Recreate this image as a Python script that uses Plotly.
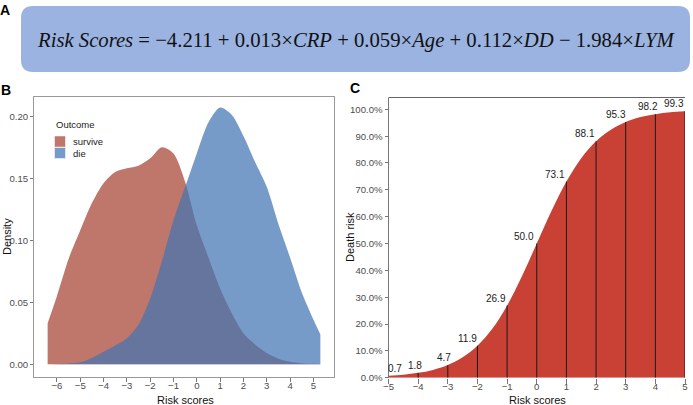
import plotly.graph_objects as go

# ---------------- data ----------------
density_x = [-6.4, -6.0, -5.5, -5.0, -4.5, -4.0, -3.5, -3.0, -2.5, -2.0, -1.5, -1.0, -0.5,
             0.0, 0.5, 1.0, 1.5, 2.0, 2.5, 3.0, 3.5, 4.0, 4.5, 5.0, 5.3]
survive_density = [0.033, 0.055, 0.085, 0.108, 0.130, 0.146, 0.155, 0.158, 0.160, 0.166, 0.175,
                   0.170, 0.147, 0.112, 0.086, 0.061, 0.041, 0.025, 0.016, 0.009, 0.0045, 0.002,
                   0.0008, 0.0003, 0.0002]
die_density = [0.0, 0.0002, 0.0006, 0.0015, 0.005, 0.010, 0.015, 0.021, 0.032, 0.053, 0.083,
               0.116, 0.143, 0.170, 0.195, 0.207, 0.201, 0.184, 0.163, 0.143, 0.113, 0.086,
               0.058, 0.036, 0.024]

curve_x = [-5.0, -4.5, -4.0, -3.5, -3.0, -2.5, -2.0, -1.5, -1.0, -0.5, 0.0,
           0.5, 1.0, 1.5, 2.0, 2.5, 3.0, 3.5, 4.0, 4.5, 5.0]
curve_risk = [0.7, 1.1, 1.8, 2.9, 4.7, 7.6, 11.9, 18.2, 26.9, 37.8, 50.0,
              62.2, 73.1, 81.8, 88.1, 92.4, 95.3, 97.1, 98.2, 98.9, 99.3]

label_scores = [-5, -4, -3, -2, -1, 0, 1, 2, 3, 4, 5]
label_risk = [0.7, 1.8, 4.7, 11.9, 26.9, 50.0, 73.1, 88.1, 95.3, 98.2, 99.3]

formula = ("<i>Risk Scores</i> = −4.211 + 0.013×<i>CRP</i> + 0.059×<i>Age</i>"
           " + 0.112×<i>DD</i> − 1.984×<i>LYM</i>")

W, H = 693, 405
RED_A = "rgba(165,66,49,0.72)"
BLUE_A = "rgba(66,117,179,0.72)"
C_RED = "rgb(200,65,52)"
FONT = "Liberation Sans, Arial, sans-serif"
TICK_C = "#4D4D4D"

fig = go.Figure()

# Panel B densities
fig.add_trace(go.Scatter(x=density_x, y=survive_density, mode="lines", fill="tozeroy",
                         line=dict(width=0, shape="spline", smoothing=0.8), fillcolor=RED_A,
                         showlegend=False, hoverinfo="skip", xaxis="x", yaxis="y"))
fig.add_trace(go.Scatter(x=density_x, y=die_density, mode="lines", fill="tozeroy",
                         line=dict(width=0, shape="spline", smoothing=0.8), fillcolor=BLUE_A,
                         showlegend=False, hoverinfo="skip", xaxis="x", yaxis="y"))

# Panel C sigmoid area
fig.add_trace(go.Scatter(x=curve_x, y=[v / 100 for v in curve_risk], mode="lines", fill="tozeroy",
                         line=dict(width=0, shape="spline", smoothing=1.0), fillcolor=C_RED,
                         showlegend=False, hoverinfo="skip", xaxis="x2", yaxis="y2"))
vx, vy = [], []
for s, r in zip(label_scores, label_risk):
    vx += [s, s, None]
    vy += [0, r / 100, None]
fig.add_trace(go.Scatter(x=vx, y=vy, mode="lines", line=dict(color="#1a1a1a", width=1),
                         showlegend=False, hoverinfo="skip", xaxis="x2", yaxis="y2"))

# label nudges (px) for C value labels
nudges = [16, 6, 5, 2, 1, -1, 1, 1, 2, 5, 1]
annotations = []
for s, r, dx in zip(label_scores, label_risk, nudges):
    annotations.append(dict(x=s, y=r / 100, xref="x2", yref="y2", text=f"{r:.1f}",
                            showarrow=False, xanchor="right", yanchor="bottom",
                            xshift=dx, yshift=0,
                            font=dict(family=FONT, size=10, color="#222")))

def px(x):
    return x / W

def py(y):
    return 1 - y / H

# Formula box (rounded rect)
x0, x1, y0, y1, r = 21, 690, 6, 72, 12
path = (f"M {px(x0 + r)} {py(y0)} L {px(x1 - r)} {py(y0)} Q {px(x1)} {py(y0)} {px(x1)} {py(y0 + r)} "
        f"L {px(x1)} {py(y1 - r)} Q {px(x1)} {py(y1)} {px(x1 - r)} {py(y1)} "
        f"L {px(x0 + r)} {py(y1)} Q {px(x0)} {py(y1)} {px(x0)} {py(y1 - r)} "
        f"L {px(x0)} {py(y0 + r)} Q {px(x0)} {py(y0)} {px(x0 + r)} {py(y0)} Z")
shapes = [dict(type="path", path=path, xref="paper", yref="paper",
               fillcolor="#9BB3E0", line=dict(width=0), layer="below")]

annotations.append(dict(x=px(356), y=py(40), xref="paper", yref="paper", text=formula,
                        showarrow=False, xanchor="center", yanchor="middle",
                        font=dict(family="Liberation Serif, serif", size=20.7, color="#111")))

# Panel letters
for letter, lx, ly in [("A", 5, 10), ("B", 6, 90), ("C", 355, 88)]:
    annotations.append(dict(x=px(lx), y=py(ly), xref="paper", yref="paper", text=f"<b>{letter}</b>",
                            showarrow=False, xanchor="center", yanchor="middle",
                            font=dict(family=FONT, size=14, color="#000")))

# Axis titles as annotations
annotations.append(dict(x=px(350), y=py(237), xref="paper", yref="paper", text="Death risk",
                        showarrow=False, textangle=-90, xanchor="center", yanchor="middle",
                        font=dict(family=FONT, size=11, color="#111")))
annotations.append(dict(x=px(7), y=py(237), xref="paper", yref="paper", text="Density",
                        showarrow=False, textangle=-90, xanchor="center", yanchor="middle",
                        font=dict(family=FONT, size=11, color="#111")))
annotations.append(dict(x=px(185), y=py(399.5), xref="paper", yref="paper", text="Risk scores",
                        showarrow=False, xanchor="center", yanchor="middle",
                        font=dict(family=FONT, size=11, color="#111")))
annotations.append(dict(x=px(537), y=py(399.5), xref="paper", yref="paper", text="Risk scores",
                        showarrow=False, xanchor="center", yanchor="middle",
                        font=dict(family=FONT, size=11, color="#111")))

# Legend for B (manual)
annotations.append(dict(x=px(54), y=py(124), xref="paper", yref="paper", text="Outcome",
                        showarrow=False, xanchor="left", yanchor="middle",
                        font=dict(family=FONT, size=9.5, color="#222")))
for i, (lab, col) in enumerate([("survive", RED_A), ("die", BLUE_A)]):
    top = 136 + i * 11.5
    shapes.append(dict(type="rect", xref="paper", yref="paper",
                       x0=px(54.5), x1=px(65.5), y0=py(top), y1=py(top + 11),
                       fillcolor=col, line=dict(width=0.5, color="white")))
    annotations.append(dict(x=px(71), y=py(top + 5.5), xref="paper", yref="paper", text=lab,
                            showarrow=False, xanchor="left", yanchor="middle",
                            font=dict(family=FONT, size=9.5, color="#222")))

# Top border line of panel C
shapes.append(dict(type="line", xref="x2 domain", yref="y2 domain", x0=0, x1=1, y0=1, y1=1,
                   line=dict(color="#666", width=1)))

axis_common = dict(showgrid=False, zeroline=False, ticks="outside", tickwidth=1, automargin=False,
                   tickcolor="#777", tickfont=dict(family=FONT, size=9.6, color=TICK_C))

fig.update_layout(
    width=W, height=H, margin=dict(l=0, r=0, t=0, b=0, autoexpand=False),
    paper_bgcolor="white", plot_bgcolor="white",
    showlegend=False, hovermode=False,
    shapes=shapes, annotations=annotations,
    xaxis=dict(domain=[34 / W, 334 / W], range=[-6.985, 5.885], anchor="y", ticklen=4,
               ticklabelstandoff=-5,
               tickmode="array", tickvals=list(range(-6, 6)),
               showline=True, mirror=True, linecolor="#999", linewidth=1, **axis_common),
    yaxis=dict(domain=[py(377), py(96.7)], range=[-0.0103, 0.2157], anchor="x", ticklen=3,
               tickmode="array", tickvals=[0, 0.05, 0.10, 0.15, 0.20],
               ticktext=["0.00", "0.05", "0.10", "0.15", "0.20"],
               showline=True, mirror=True, linecolor="#999", linewidth=1, **axis_common),
    xaxis2=dict(domain=[388.5 / W, 685 / W], range=[-5, 5], anchor="y2", ticklen=5,
                ticklabelstandoff=-5,
                tickmode="array", tickvals=list(range(-5, 6)),
                showline=False, **axis_common),
    yaxis2=dict(domain=[py(377.7), py(97.5)], range=[0, 1.044], anchor="x2", ticklen=3,
                tickmode="array", tickvals=[i / 10 for i in range(11)], tickformat=".1%",
                showline=True, linecolor="#777", linewidth=1, **axis_common),
)

fig.write_html("out.html", config={"displayModeBar": False},
               post_script="document.body.style.margin='0';document.body.style.overflow='hidden';")
